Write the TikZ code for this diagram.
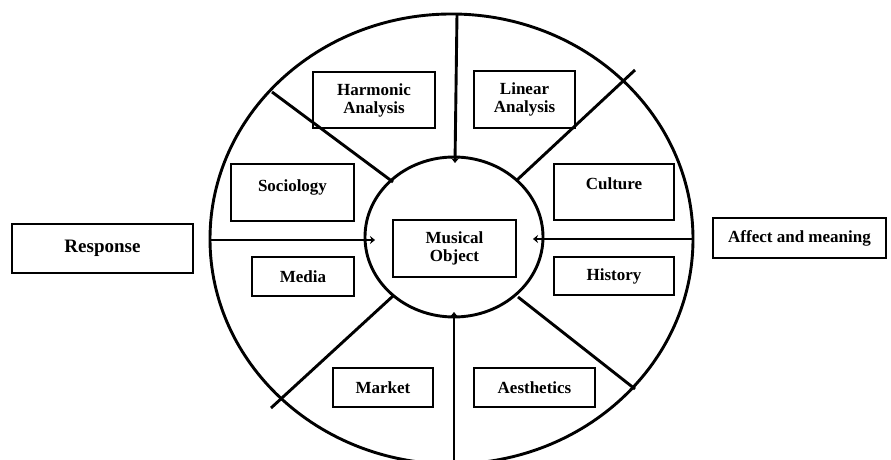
\documentclass[tikz,border=0pt]{standalone}
\usepackage{fontspec}
\setmainfont{Liberation Serif}
\usetikzlibrary{shapes.geometric,arrows.meta}
\tikzset{
  ln/.style={line width=2.9bp},
  ring/.style={ellipse,draw,ln,inner sep=0pt},
  bx/.style={rectangle,draw,ln,inner sep=0pt,align=center,
    font=\fontsize{17bp}{18bp}\selectfont\bfseries},
  spoke/.style={ln},
  inarrow/.style={ln,-{Stealth[length=5bp,width=8bp]}},
}
\begin{document}
\begin{tikzpicture}[x=1bp,y=-1bp]
\useasboundingbox (0,0) rectangle (891,460);
% rings
\node[ring,minimum width=483bp,minimum height=450bp] (outer) at (451.5,239) {};
\node[ring,minimum width=178bp,minimum height=160bp] (inner) at (454,237) {};
% spoke end points
\coordinate (tN) at (457,14);   \coordinate (hN) at (455,163);
\coordinate (tW) at (210,240);  \coordinate (hW) at (375,240);
\coordinate (tE) at (693,239);  \coordinate (hE) at (533,239);
\coordinate (tS) at (454,462);  \coordinate (hS) at (454,312);
\coordinate (dNEi) at (517,180); \coordinate (dNEo) at (635,70);
\coordinate (dNWi) at (393,182); \coordinate (dNWo) at (272,92);
\coordinate (dSWi) at (393,296); \coordinate (dSWo) at (271,408);
\coordinate (dSEi) at (518,297); \coordinate (dSEo) at (635,389);
\draw[inarrow] (tN) -- (hN);
\draw[inarrow] (tW) -- (hW);
\draw[inarrow] (tE) -- (hE);
\draw[inarrow] (tS) -- (hS);
\draw[spoke] (dNEi) -- (dNEo);
\draw[spoke] (dNWi) -- (dNWo);
\draw[spoke] (dSWi) -- (dSWo);
\draw[spoke] (dSEi) -- (dSEo);
% boxes
\node[bx,minimum width=122bp,minimum height=56bp] (harm) at (374,100) {Harmonic\\Analysis};
\node[bx,minimum width=101bp,minimum height=57bp] (lin) at (524.5,99.5) {Linear\\Analysis};
\node[bx,minimum width=123bp,minimum height=57bp,text height=11.5bp,text depth=12.5bp] (soc) at (292.5,192.5) {Sociology};
\node[bx,minimum width=120bp,minimum height=56bp,text height=11.5bp,text depth=15.5bp] (cult) at (614,192) {Culture};
\node[bx,minimum width=123bp,minimum height=57bp] (mus) at (454.5,248.5) {Musical\\Object};
\node[bx,minimum width=102bp,minimum height=39bp] (media) at (303,276.5) {Media};
\node[bx,minimum width=120bp,minimum height=38bp] (hist) at (614,276) {History};
\node[bx,minimum width=100bp,minimum height=39bp] (market) at (383,387.5) {Market};
\node[bx,minimum width=121bp,minimum height=39bp] (aest) at (534.5,387.5) {Aesthetics};
\node[bx,minimum width=181bp,minimum height=49bp,font=\fontsize{19bp}{20bp}\selectfont\bfseries] (resp) at (102.5,248.5) {Response};
\node[bx,minimum width=173bp,minimum height=40bp] (aff) at (799.5,238) {Affect and meaning};
\end{tikzpicture}
\end{document}
